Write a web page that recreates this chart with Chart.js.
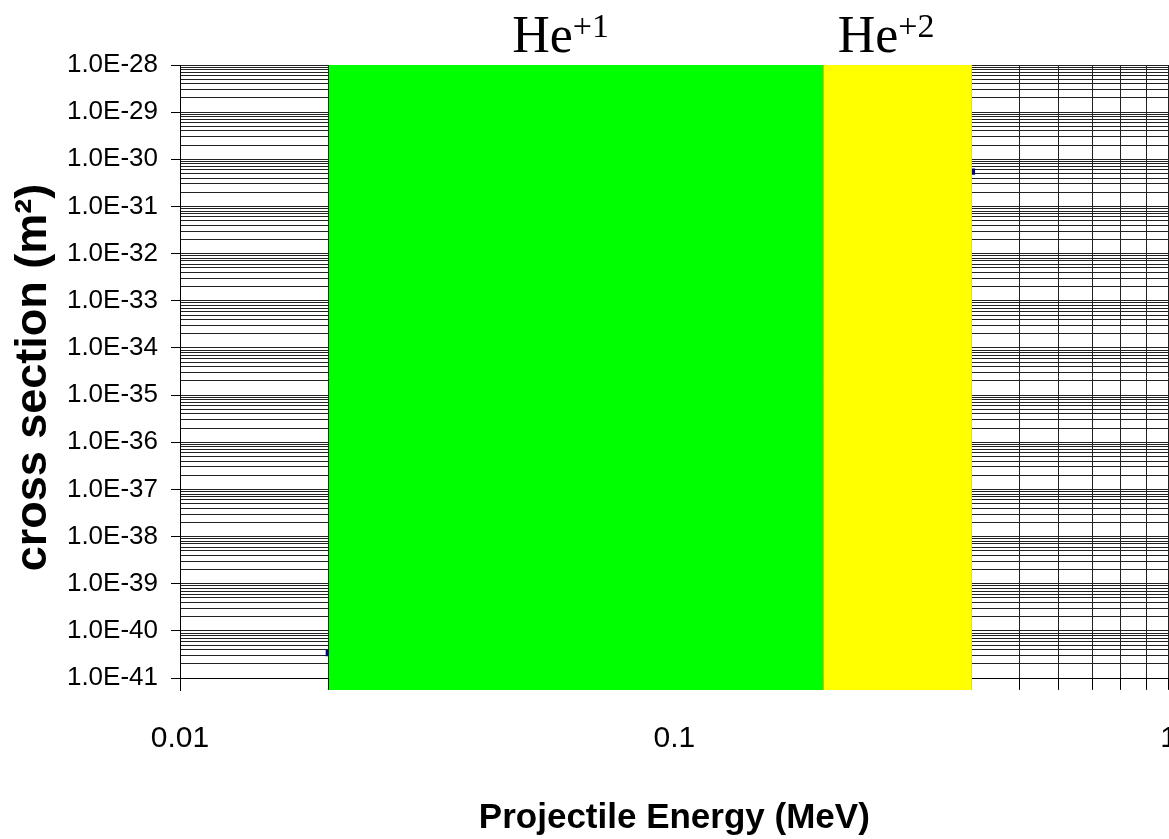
<!DOCTYPE html>
<html>
<head>
<meta charset="utf-8">
<script src="https://cdn.jsdelivr.net/npm/chart.js"></script>
<style>
  html, body { margin: 0; padding: 0; background: #fff; overflow: hidden; }
  #wrap { width: 1169px; height: 839px; overflow: hidden; }
</style>
</head>
<body>
<div id="wrap"><canvas id="xsChart" width="1210" height="839"></canvas></div>
<script>
// energy bands (MeV) covered by each charge state
const bandNames = ['He', 'He'];
const bandCharges = ['+1', '+2'];
const bandFrom = [0.02, 0.2];
const bandTo = [0.2, 0.4];
const bandColors = ['#00ff00', '#ffff00'];
const bandTop = 1e-28;
const labelEnergy = [0.047, 0.214];

// cross section series, only its ends show past the bands
const curveEnergy = [0.02, 0.4];
const curveSigma = [3.4e-41, 5.5e-31];

// axes
const xTickLabels = ['0.01', '0.1', '1'];
const yTickLabels = ['1.0E-41', '1.0E-40', '1.0E-39', '1.0E-38', '1.0E-37', '1.0E-36', '1.0E-35',
  '1.0E-34', '1.0E-33', '1.0E-32', '1.0E-31', '1.0E-30', '1.0E-29', '1.0E-28'];
const yMin = 5.6e-42;

const xMajors = xTickLabels.map(Number);
const yMajors = yTickLabels.map(Number);

function decadeTicks(majors) {
    const ticks = [];
    majors.forEach((m, i) => {
        if (i === majors.length - 1) {
            ticks.push({ value: m, major: true });
            return;
        }
        for (let k = 1; k <= 9; k++) {
            ticks.push({ value: m * k, major: k === 1 });
        }
    });
    return ticks;
}

const bandDatasets = bandFrom.map((from, i) => ({
    label: bandNames[i] + bandCharges[i],
    data: [{ x: from, y: bandTop }, { x: bandTo[i], y: bandTop }],
    borderWidth: 0,
    borderColor: bandColors[i],
    backgroundColor: bandColors[i],
    pointRadius: 0,
    fill: 'start',
    order: 1
}));

const curveDataset = {
    label: 'sigma',
    data: curveEnergy.map((e, i) => ({ x: e, y: curveSigma[i] })),
    borderColor: '#000080',
    backgroundColor: '#000080',
    borderWidth: 2,
    pointStyle: 'rect',
    pointRadius: 3,
    fill: false,
    order: 3
};

const chargeLabels = {
    id: 'chargeLabels',
    afterDraw(chart) {
        const ctx = chart.ctx;
        const xs = chart.scales.x;
        ctx.save();
        ctx.fillStyle = '#000';
        ctx.textBaseline = 'alphabetic';
        ctx.textAlign = 'left';
        labelEnergy.forEach((e, i) => {
            const x = xs.getPixelForValue(e);
            ctx.font = '52px "Liberation Serif", "Times New Roman", serif';
            ctx.fillText(bandNames[i], x, 52);
            const w = ctx.measureText(bandNames[i]).width;
            ctx.font = '34px "Liberation Serif", "Times New Roman", serif';
            ctx.fillText(bandCharges[i], x + w, 37);
        });
        ctx.restore();
    }
};

const ctx = document.getElementById('xsChart').getContext('2d');
new Chart(ctx, {
    type: 'line',
    data: { datasets: [...bandDatasets, curveDataset] },
    options: {
        responsive: false,
        animation: false,
        layout: { padding: { left: 0, top: 65, right: 22, bottom: 149 } },
        plugins: {
            legend: { display: false },
            tooltip: { enabled: false }
        },
        scales: {
            x: {
                type: 'logarithmic',
                position: { y: yMajors[0] },
                min: xMajors[0],
                max: xMajors[xMajors.length - 1],
                afterBuildTicks: s => { s.ticks = decadeTicks(xMajors); },
                afterFit: s => { s.height = 161; },
                grid: {
                    color: '#222',
                    lineWidth: 1,
                    tickLength: 10,
                    tickColor: '#000'
                },
                border: { display: true, color: '#000', width: 1 },
                ticks: {
                    autoSkip: false,
                    maxRotation: 0,
                    padding: 33,
                    color: '#000',
                    font: { family: '"Liberation Sans", Arial, sans-serif', size: 30 },
                    callback: function(value) {
                        const i = xMajors.findIndex(m => Math.abs(m - value) / m < 1e-6);
                        return i >= 0 ? xTickLabels[i] : '';
                    }
                },
                title: {
                    display: true,
                    text: 'Projectile Energy (MeV)',
                    color: '#000',
                    padding: { top: 0, bottom: 0 },
                    font: { family: '"Liberation Sans", Arial, sans-serif', size: 35, weight: 'bold' }
                }
            },
            y: {
                type: 'logarithmic',
                min: yMin,
                max: yMajors[yMajors.length - 1],
                afterBuildTicks: s => { s.ticks = decadeTicks(yMajors); },
                afterFit: s => { s.width = 180; },
                grid: {
                    color: '#222',
                    lineWidth: 1,
                    tickLength: 9,
                    tickColor: c => (c.tick && c.tick.major) ? '#000' : 'rgba(0,0,0,0)'
                },
                border: { display: true, color: '#000', width: 1 },
                ticks: {
                    autoSkip: false,
                    padding: 13,
                    color: '#000',
                    font: { family: '"Liberation Sans", Arial, sans-serif', size: 26 },
                    callback: function(value) {
                        const i = yMajors.findIndex(m => Math.abs(m - value) / m < 1e-6);
                        return i >= 0 ? yTickLabels[i] : '';
                    }
                },
                title: {
                    display: true,
                    text: 'cross section (m²)',
                    color: '#000',
                    padding: { top: 7, bottom: 0 },
                    font: { family: '"Liberation Sans", Arial, sans-serif', size: 45, weight: 'bold' }
                }
            }
        }
    },
    plugins: [chargeLabels]
});
</script>
</body>
</html>
